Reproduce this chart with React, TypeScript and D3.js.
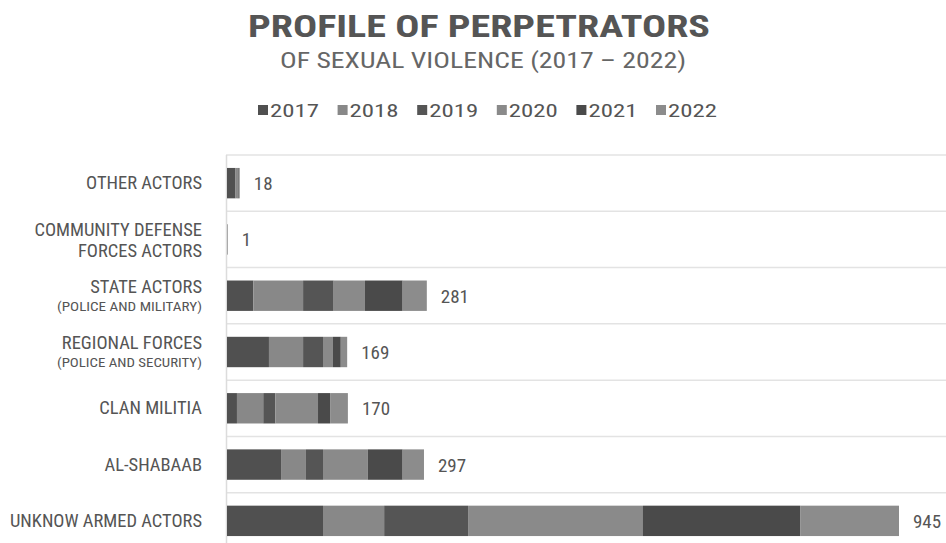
import React from "react";
import * as d3 from "d3";

const categories = [
  "OTHER ACTORS",
  "COMMUNITY DEFENSE|FORCES ACTORS",
  "STATE ACTORS",
  "REGIONAL FORCES",
  "CLAN MILITIA",
  "AL-SHABAAB",
  "UNKNOW ARMED ACTORS",
];
const subLabels = ["", "", "(POLICE AND MILITARY)", "(POLICE AND SECURITY)", "", "", ""];
const years = ["2017", "2018", "2019", "2020", "2021", "2022"];
const v2017 = [12, 0, 37, 59, 14, 76, 135];
const v2018 = [2, 0, 70, 48, 37, 35, 86];
const v2019 = [1, 0, 43, 28, 17, 24, 118];
const v2020 = [1, 1, 44, 14, 60, 63, 246];
const v2021 = [1, 0, 53, 11, 17, 49, 221];
const v2022 = [1, 0, 34, 9, 25, 30, 139];
const totals = ["18", "1", "281", "169", "170", "297", "945"];
const colors = ["#505050", "#888888", "#555555", "#8a8a8a", "#4a4a4a", "#8c8c8c"];

const FONT = "'Roboto Condensed', 'Liberation Sans Narrow', 'Arial Narrow', 'Liberation Sans', sans-serif";

export default function App() {
  const W = 946, H = 543;
  const series = [v2017, v2018, v2019, v2020, v2021, v2022];
  const rows = categories.map((c, i) => {
    const o: any = { cat: c };
    years.forEach((y, k) => (o[y] = series[k][i]));
    return o;
  });
  const stack = d3.stack<any>().keys(years)(rows);
  const x = d3.scaleLinear().domain([0, 1000]).range([227, 938.1]);
  const y = d3.scaleBand().domain(categories).range([155, 549]).paddingInner(0.46).paddingOuter(0.23);
  const band = d3.scaleBand().domain(categories).range([155, 549]);
  const gridYs = categories.map((c) => band(c)!);
  const legendX = d3.scaleLinear().domain([0, 5]).range([258, 656]);

  return (
    <svg width={W} height={H} style={{ position: "absolute", left: 0, top: 0, background: "#fff" }} fontFamily={FONT}>
      <text x={248} y={37} fontSize={32} fontWeight="bold" fill="#555" textLength={462} lengthAdjust="spacingAndGlyphs">
        PROFILE OF PERPETRATORS
      </text>
      <text x={280} y={68} fontSize={21.5} fill="#666" textLength={406} lengthAdjust="spacingAndGlyphs">
        OF SEXUAL VIOLENCE (2017 – 2022)
      </text>
      {years.map((yr, k) => (
        <g key={yr} transform={`translate(${legendX(k)},0)`}>
          <rect x={0} y={105} width={10} height={10} fill={colors[k]} />
          <text x={12} y={117} fontSize={19} fill="#555" textLength={49} lengthAdjust="spacingAndGlyphs">{yr}</text>
        </g>
      ))}
      {gridYs.map((gy, i) => (
        <line key={i} x1={226} x2={946} y1={gy} y2={gy} stroke="#e3e3e3" strokeWidth={1.5} />
      ))}
      <line x1={226.5} x2={226.5} y1={155} y2={543} stroke="#dcdcdc" strokeWidth={1.5} />
      {stack.map((s, k) => (
        <g key={years[k]} fill={colors[k]}>
          {s.map((d: any, i) => (
            <rect
              key={i}
              x={x(d[0])}
              y={y(categories[i])}
              width={Math.max(0, x(d[1]) - x(d[0]))}
              height={y.bandwidth()}
            />
          ))}
        </g>
      ))}
      {categories.map((c, i) => {
        const end = x(stack[stack.length - 1][i][1] as number);
        const cy = y(c)! + y.bandwidth() / 2;
        return (
          <text key={c} x={end + 14} y={cy + 7} fontSize={19} fill="#555">
            {totals[i]}
          </text>
        );
      })}
      {categories.map((c, i) => {
        const cy = band(c)! + band.bandwidth() / 2;
        const parts = c.split("|");
        if (parts.length === 2) {
          return (
            <text key={c} textAnchor="end" fontSize={18.5} fill="#555">
              <tspan x={202} y={cy - 3}>{parts[0]}</tspan>
              <tspan x={202} y={cy + 18}>{parts[1]}</tspan>
            </text>
          );
        }
        if (subLabels[i]) {
          return (
            <g key={c}>
              <text x={202} y={cy - 3} textAnchor="end" fontSize={18.5} fill="#555">{c}</text>
              <text x={202} y={cy + 15} textAnchor="end" fontSize={13.5} fill="#555" textLength={145} lengthAdjust="spacingAndGlyphs">{subLabels[i]}</text>
            </g>
          );
        }
        return (
          <text key={c} x={202} y={cy + 6} textAnchor="end" fontSize={18.5} fill="#555">{c}</text>
        );
      })}
    </svg>
  );
}
